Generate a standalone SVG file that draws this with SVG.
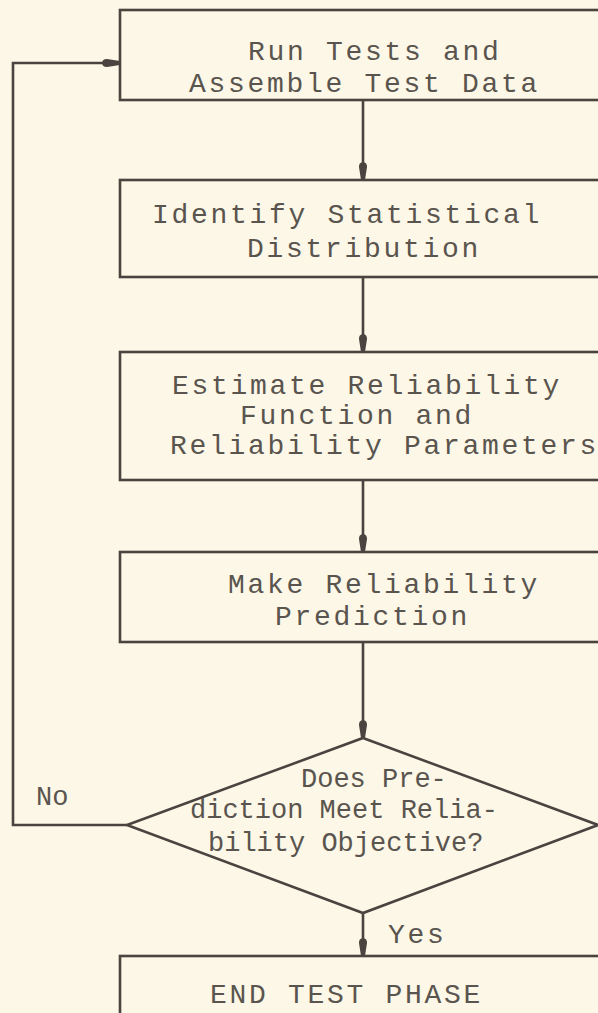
<svg xmlns="http://www.w3.org/2000/svg" width="598" height="1013" viewBox="0 0 598 1013">
<defs>
<style>
.box{fill:none;stroke:#4a4440;stroke-width:2.6}
.ln{fill:none;stroke:#4a4440;stroke-width:2.6}
.t{font-family:"Liberation Mono",monospace;font-size:28px;letter-spacing:2.7px;fill:#5a544f}
.d{font-family:"Liberation Mono",monospace;font-size:27px;fill:#5a544f}
</style>
<marker id="ah" viewBox="0 0 18 10" refX="18" refY="5" markerWidth="18" markerHeight="10" markerUnits="userSpaceOnUse" orient="auto">
<path d="M0,5 Q0.5,0.8 5,1 L18,3 L18,7 L5,9 Q0.5,9.2 0,5 Z" fill="#4a4440"/>
</marker>
</defs>
<rect width="598" height="1013" fill="#fcf7e6"/>
<g id="connectors">
<line class="ln" x1="363" y1="100" x2="363" y2="180" marker-end="url(#ah)"/>
<line class="ln" x1="363" y1="277" x2="363" y2="352" marker-end="url(#ah)"/>
<line class="ln" x1="363" y1="480" x2="363" y2="552" marker-end="url(#ah)"/>
<line class="ln" x1="363" y1="642" x2="363" y2="738" marker-end="url(#ah)"/>
<line class="ln" x1="363" y1="913" x2="363" y2="956" marker-end="url(#ah)"/>
<polyline class="ln" points="127,825 13,825 13,63 120,63" marker-end="url(#ah)"/>
<text class="d" x="36" y="805">No</text>
<text class="t" x="388" y="943">Yes</text>
</g>
<g id="n1">
<rect class="box" x="120" y="10" width="500" height="90"/>
<text class="t" x="248" y="60">Run Tests and</text>
<text class="t" x="189" y="92">Assemble Test Data</text>
</g>
<g id="n2">
<rect class="box" x="120" y="180" width="500" height="97"/>
<text class="t" x="152" y="223">Identify Statistical</text>
<text class="t" x="247" y="257">Distribution</text>
</g>
<g id="n3">
<rect class="box" x="120" y="352" width="500" height="128"/>
<text class="t" x="172" y="394">Estimate Reliability</text>
<text class="t" x="240" y="424">Function and</text>
<text class="t" x="170" y="454">Reliability Parameters</text>
</g>
<g id="n4">
<rect class="box" x="120" y="552" width="500" height="90"/>
<text class="t" x="228" y="593">Make Reliability</text>
<text class="t" x="275" y="625">Prediction</text>
</g>
<g id="n5">
<polygon class="box" points="363,738 598,825 363,913 127,825"/>
<text class="d" x="301" y="787">Does Pre-</text>
<text class="d" x="190" y="818">diction Meet Relia-</text>
<text class="d" x="208" y="851">bility Objective?</text>
</g>
<g id="n6">
<rect class="box" x="120" y="956" width="500" height="80"/>
<text class="t" x="210" y="1003">END TEST PHASE</text>
</g>
</svg>
